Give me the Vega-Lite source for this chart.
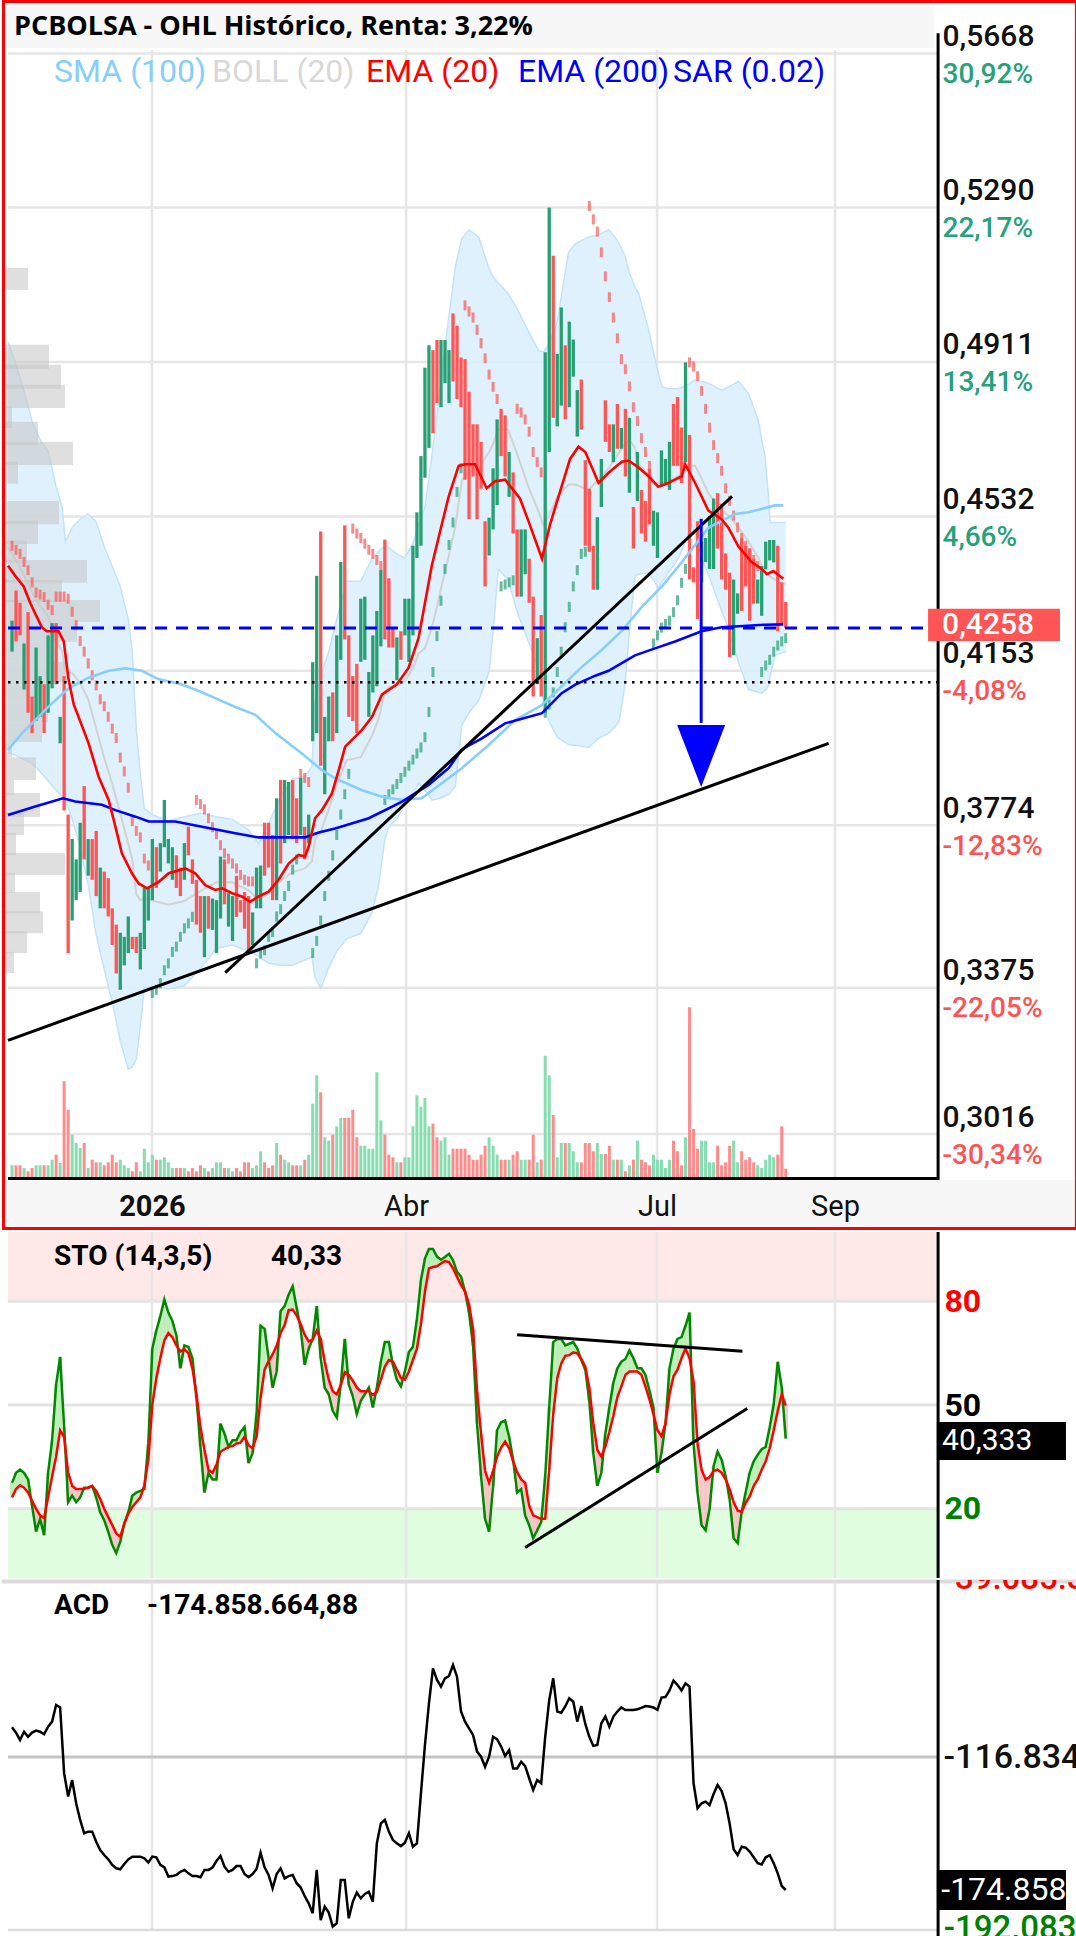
{
"$schema":"https://vega.github.io/schema/vega-lite/v6.json",
"padding":0,"background":"white","bounds":"flush","spacing":2,
"config":{"view":{"stroke":null},"font":"Roboto"},
"datasets":{
"ticks":[{"p":0.5668},{"p":0.529},{"p":0.4911},{"p":0.4532},{"p":0.4153},{"p":0.3774},{"p":0.3375},{"p":0.3016}],
"months":[{"m":35.9},{"m":99.3},{"m":161.9},{"m":206.3}],
"main":[
{"t":1,"o":0.42,"c":0.4276,"v":1.17,"s":0.446,"k":27.5,"d":23.3,"a":-103.9},
{"t":2,"o":0.435,"c":0.4225,"v":1.17,"s":0.445,"k":30.4,"d":25.7,"a":-106.2},
{"t":3,"o":0.432,"c":0.424,"v":1.17,"s":0.444,"k":31.3,"d":26.8,"a":-109.4},
{"t":4,"o":0.4107,"c":0.422,"v":0.9,"s":0.442,"k":30.4,"d":26.1,"a":-105.8},
{"t":5,"o":0.4297,"c":0.405,"v":0.57,"s":0.44,"k":28.5,"d":24.7,"a":-108.0},
{"t":6,"o":0.409,"c":0.4,"v":0.9,"s":0.437,"k":20.9,"d":22.3,"a":-106.2},
{"t":7,"o":0.403,"c":0.421,"v":1.17,"s":0.4345,"k":13.4,"d":20.0,"a":-105.3},
{"t":8,"o":0.404,"c":0.414,"v":1.17,"s":0.434,"k":17.1,"d":18.1,"a":-105.8},
{"t":9,"o":0.412,"c":0.4,"v":1.17,"s":0.4334,"k":12.4,"d":17.3,"a":-106.9},
{"t":10,"o":0.405,"c":0.424,"v":1.17,"s":0.4315,"k":30.4,"d":23.3,"a":-103.6},
{"t":11,"o":0.411,"c":0.427,"v":1.73,"s":0.4302,"k":39.8,"d":29.4,"a":-101.4},
{"t":12,"o":0.427,"c":0.412,"v":2.23,"s":0.4335,"k":55.9,"d":35.1,"a":-94.1},
{"t":13,"o":0.3975,"c":0.404,"v":1.4,"s":0.4335,"k":63.9,"d":42.7,"a":-95.2},
{"t":14,"o":0.414,"c":0.381,"v":9.57,"s":0.4335,"k":43.6,"d":40.8,"a":-124.0},
{"t":15,"o":0.38,"c":0.346,"v":6.73,"s":0.433,"k":21.9,"d":30.4,"a":-134.1},
{"t":16,"o":0.354,"c":0.374,"v":4.23,"s":0.4298,"k":23.8,"d":26.6,"a":-126.9},
{"t":17,"o":0.359,"c":0.369,"v":3.4,"s":0.4265,"k":21.9,"d":25.7,"a":-137.0},
{"t":18,"o":0.361,"c":0.378,"v":2.9,"s":0.4226,"k":23.3,"d":25.7,"a":-144.3},
{"t":19,"o":0.387,"c":0.369,"v":3.4,"s":0.42,"k":26.1,"d":25.8,"a":-150.1},
{"t":20,"o":0.365,"c":0.374,"v":0.9,"s":0.4171,"k":26.1,"d":26.1,"a":-149.4},
{"t":21,"o":0.374,"c":0.364,"v":1.73,"s":0.4142,"k":26.6,"d":26.6,"a":-149.4},
{"t":22,"o":0.376,"c":0.36,"v":1.47,"s":0.4117,"k":23.3,"d":25.2,"a":-153.8},
{"t":23,"o":0.357,"c":0.367,"v":1.47,"s":0.4083,"k":19.0,"d":22.8,"a":-157.4},
{"t":24,"o":0.366,"c":0.357,"v":1.17,"s":0.4066,"k":16.7,"d":20.0,"a":-159.6},
{"t":25,"o":0.3644,"c":0.355,"v":1.47,"s":0.404,"k":13.4,"d":17.6,"a":-161.5},
{"t":26,"o":0.357,"c":0.348,"v":2.23,"s":0.4011,"k":9.6,"d":15.3,"a":-163.9},
{"t":27,"o":0.353,"c":0.341,"v":1.47,"s":0.3988,"k":7.2,"d":12.9,"a":-165.4},
{"t":28,"o":0.337,"c":0.351,"v":1.73,"s":0.394,"k":10.5,"d":11.9,"a":-165.8},
{"t":29,"o":0.343,"c":0.35,"v":1.17,"s":0.3906,"k":15.7,"d":15.7,"a":-163.5},
{"t":30,"o":0.346,"c":0.355,"v":0.9,"s":0.3866,"k":19.0,"d":18.6,"a":-161.5},
{"t":31,"o":0.35,"c":0.347,"v":0.57,"s":0.3784,"k":23.8,"d":20.5,"a":-160.3},
{"t":32,"o":0.35,"c":0.346,"v":1.47,"s":0.376,"k":24.7,"d":21.9,"a":-160.3},
{"t":33,"o":0.342,"c":0.351,"v":0.57,"s":0.3744,"k":25.2,"d":23.3,"a":-160.3},
{"t":34,"o":0.347,"c":0.362,"v":2.83,"s":0.3692,"k":25.7,"d":26.6,"a":-161.0},
{"t":35,"o":0.354,"c":0.362,"v":1.47,"s":0.3675,"k":38.9,"d":34.2,"a":-162.9},
{"t":36,"o":0.359,"c":0.374,"v":2.23,"s":0.3362,"k":66.3,"d":50.2,"a":-160.3},
{"t":37,"o":0.372,"c":0.362,"v":1.73,"s":0.337,"k":71.5,"d":57.8,"a":-160.6},
{"t":38,"o":0.366,"c":0.373,"v":1.73,"s":0.3386,"k":75.7,"d":63.5,"a":-163.9},
{"t":39,"o":0.372,"c":0.3836,"v":1.97,"s":0.3418,"k":80.5,"d":68.7,"a":-165.0},
{"t":40,"o":0.368,"c":0.374,"v":1.47,"s":0.3435,"k":76.7,"d":70.8,"a":-169.0},
{"t":41,"o":0.364,"c":0.372,"v":0.9,"s":0.3463,"k":74.3,"d":69.6,"a":-168.8},
{"t":42,"o":0.37,"c":0.362,"v":0.9,"s":0.3476,"k":70.1,"d":67.2,"a":-168.3},
{"t":43,"o":0.367,"c":0.36,"v":0.9,"s":0.35,"k":60.6,"d":65.5,"a":-166.9},
{"t":44,"o":0.364,"c":0.373,"v":0.9,"s":0.3521,"k":67.2,"d":66.1,"a":-166.1},
{"t":45,"o":0.377,"c":0.37,"v":0.57,"s":0.3533,"k":66.8,"d":64.9,"a":-167.6},
{"t":46,"o":0.369,"c":0.363,"v":0.9,"s":0.3549,"k":63.5,"d":60.6,"a":-168.8},
{"t":47,"o":0.364,"c":0.353,"v":0.57,"s":0.3836,"k":52.1,"d":53.1,"a":-168.8},
{"t":48,"o":0.36,"c":0.351,"v":1.17,"s":0.3826,"k":37.9,"d":43.6,"a":-169.3},
{"t":49,"o":0.345,"c":0.36,"v":0.9,"s":0.3813,"k":24.7,"d":37.0,"a":-166.1},
{"t":50,"o":0.36,"c":0.352,"v":0.57,"s":0.3791,"k":30.4,"d":31.3,"a":-166.1},
{"t":51,"o":0.3517,"c":0.3594,"v":0.9,"s":0.3769,"k":28.5,"d":30.4,"a":-165.1},
{"t":52,"o":0.346,"c":0.359,"v":1.47,"s":0.3752,"k":28.5,"d":32.7,"a":-162.2},
{"t":53,"o":0.3545,"c":0.3697,"v":1.47,"s":0.3725,"k":44.6,"d":36.5,"a":-160.0},
{"t":54,"o":0.369,"c":0.358,"v":0.9,"s":0.3705,"k":41.7,"d":37.2,"a":-164.7},
{"t":55,"o":0.3525,"c":0.3607,"v":0.9,"s":0.3692,"k":37.9,"d":37.9,"a":-166.9},
{"t":56,"o":0.349,"c":0.36,"v":0.57,"s":0.368,"k":39.8,"d":38.1,"a":-166.1},
{"t":57,"o":0.365,"c":0.3549,"v":0.9,"s":0.3668,"k":39.8,"d":38.9,"a":-164.4},
{"t":58,"o":0.359,"c":0.356,"v":0.57,"s":0.3652,"k":42.2,"d":39.1,"a":-164.4},
{"t":59,"o":0.361,"c":0.352,"v":1.47,"s":0.364,"k":43.6,"d":40.8,"a":-167.9},
{"t":60,"o":0.36,"c":0.346,"v":1.47,"s":0.3636,"k":33.2,"d":38.4,"a":-169.3},
{"t":61,"o":0.348,"c":0.356,"v":0.9,"s":0.3636,"k":36.1,"d":37.5,"a":-167.9},
{"t":62,"o":0.357,"c":0.367,"v":1.17,"s":0.3435,"k":47.4,"d":40.8,"a":-165.7},
{"t":63,"o":0.357,"c":0.3675,"v":2.57,"s":0.3459,"k":72.9,"d":52.1,"a":-158.6},
{"t":64,"o":0.378,"c":0.365,"v":1.47,"s":0.3467,"k":72.0,"d":60.2,"a":-165.0},
{"t":65,"o":0.378,"c":0.367,"v":0.9,"s":0.35,"k":63.5,"d":62.7,"a":-168.3},
{"t":66,"o":0.375,"c":0.359,"v":1.17,"s":0.3512,"k":55.0,"d":64.6,"a":-174.1},
{"t":67,"o":0.359,"c":0.384,"v":3.4,"s":0.355,"k":59.7,"d":67.1,"a":-167.9},
{"t":68,"o":0.3885,"c":0.368,"v":2.23,"s":0.3568,"k":77.2,"d":70.8,"a":-165.4},
{"t":69,"o":0.373,"c":0.3885,"v":1.73,"s":0.36,"k":78.6,"d":73.1,"a":-169.8},
{"t":70,"o":0.375,"c":0.388,"v":1.47,"s":0.3625,"k":81.9,"d":77.4,"a":-168.8},
{"t":71,"o":0.3885,"c":0.374,"v":1.17,"s":0.3665,"k":84.3,"d":77.6,"a":-168.3},
{"t":72,"o":0.384,"c":0.373,"v":1.17,"s":0.369,"k":78.1,"d":75.9,"a":-171.9},
{"t":73,"o":0.375,"c":0.389,"v":1.17,"s":0.39,"k":72.0,"d":73.4,"a":-173.8},
{"t":74,"o":0.377,"c":0.369,"v":1.73,"s":0.389,"k":61.6,"d":70.3,"a":-177.5},
{"t":75,"o":0.373,"c":0.38,"v":2.23,"s":0.388,"k":66.3,"d":68.4,"a":-180.7},
{"t":76,"o":0.398,"c":0.4174,"v":7.33,"s":0.346,"k":69.1,"d":68.9,"a":-185.0},
{"t":77,"o":0.4,"c":0.4386,"v":10.17,"s":0.349,"k":78.6,"d":71.5,"a":-166.1},
{"t":78,"o":0.4495,"c":0.392,"v":8.47,"s":0.354,"k":63.5,"d":69.1,"a":-188.0},
{"t":79,"o":0.385,"c":0.404,"v":3.97,"s":0.36,"k":55.0,"d":62.5,"a":-182.1},
{"t":80,"o":0.398,"c":0.409,"v":3.63,"s":0.365,"k":53.1,"d":57.3,"a":-184.7},
{"t":81,"o":0.41,"c":0.398,"v":4.23,"s":0.37,"k":48.3,"d":54.0,"a":-190.8},
{"t":82,"o":0.4,"c":0.424,"v":5.07,"s":0.375,"k":46.4,"d":53.1,"a":-189.4},
{"t":83,"o":0.418,"c":0.442,"v":5.9,"s":0.38,"k":55.9,"d":55.7,"a":-170.5},
{"t":84,"o":0.451,"c":0.423,"v":5.9,"s":0.385,"k":69.1,"d":59.5,"a":-170.5},
{"t":85,"o":0.424,"c":0.404,"v":5.93,"s":0.39,"k":55.9,"d":58.7,"a":-187.2},
{"t":86,"o":0.414,"c":0.403,"v":6.73,"s":0.4502,"k":52.6,"d":57.0,"a":-180.0},
{"t":87,"o":0.417,"c":0.4,"v":3.97,"s":0.449,"k":47.4,"d":55.1,"a":-176.0},
{"t":88,"o":0.4175,"c":0.433,"v":3.13,"s":0.4479,"k":51.2,"d":54.0,"a":-178.5},
{"t":89,"o":0.418,"c":0.4335,"v":3.13,"s":0.4465,"k":53.1,"d":54.0,"a":-176.6},
{"t":90,"o":0.404,"c":0.415,"v":2.83,"s":0.445,"k":55.0,"d":54.0,"a":-175.6},
{"t":91,"o":0.41,"c":0.424,"v":2.83,"s":0.444,"k":49.3,"d":52.9,"a":-180.0},
{"t":92,"o":0.4115,"c":0.43,"v":10.47,"s":0.4425,"k":55.0,"d":53.8,"a":-154.5},
{"t":93,"o":0.4213,"c":0.44,"v":5.67,"s":0.441,"k":62.5,"d":57.3,"a":-145.8},
{"t":94,"o":0.4475,"c":0.423,"v":4.23,"s":0.3836,"k":68.2,"d":61.1,"a":-144.3},
{"t":95,"o":0.438,"c":0.421,"v":2.23,"s":0.385,"k":68.2,"d":63.0,"a":-149.4},
{"t":96,"o":0.426,"c":0.421,"v":1.97,"s":0.3862,"k":61.6,"d":62.5,"a":-153.0},
{"t":97,"o":0.413,"c":0.4235,"v":1.47,"s":0.3875,"k":57.3,"d":60.2,"a":-154.5},
{"t":98,"o":0.425,"c":0.418,"v":1.47,"s":0.389,"k":55.4,"d":57.8,"a":-155.7},
{"t":99,"o":0.424,"c":0.433,"v":1.97,"s":0.3905,"k":59.7,"d":57.3,"a":-154.2},
{"t":100,"o":0.4175,"c":0.433,"v":1.97,"s":0.392,"k":65.3,"d":59.7,"a":-150.1},
{"t":101,"o":0.424,"c":0.446,"v":5.07,"s":0.3935,"k":66.8,"d":63.0,"a":-156.0},
{"t":102,"o":0.443,"c":0.4542,"v":8.17,"s":0.395,"k":74.8,"d":66.3,"a":-154.5},
{"t":103,"o":0.446,"c":0.468,"v":7.03,"s":0.3965,"k":86.1,"d":73.4,"a":-132.7},
{"t":104,"o":0.4627,"c":0.4897,"v":7.9,"s":0.399,"k":92.3,"d":82.8,"a":-111.6},
{"t":105,"o":0.47,"c":0.4952,"v":5.07,"s":0.4052,"k":95.1,"d":89.5,"a":-93.4},
{"t":106,"o":0.494,"c":0.4736,"v":5.33,"s":0.415,"k":95.1,"d":89.9,"a":-78.2},
{"t":107,"o":0.4965,"c":0.481,"v":3.97,"s":0.4238,"k":92.9,"d":90.1,"a":-83.2},
{"t":108,"o":0.48,"c":0.4965,"v":3.63,"s":0.4325,"k":92.0,"d":90.9,"a":-86.1},
{"t":109,"o":0.4859,"c":0.4965,"v":3.97,"s":0.4403,"k":92.8,"d":91.6,"a":-82.5},
{"t":110,"o":0.481,"c":0.494,"v":2.23,"s":0.4462,"k":93.7,"d":91.3,"a":-81.5},
{"t":111,"o":0.503,"c":0.4863,"v":2.83,"s":0.4517,"k":91.8,"d":89.5,"a":-76.7},
{"t":112,"o":0.5,"c":0.482,"v":2.83,"s":0.4592,"k":88.5,"d":87.1,"a":-81.8},
{"t":113,"o":0.4922,"c":0.48,"v":2.83,"s":0.465,"k":87.1,"d":84.7,"a":-97.0},
{"t":114,"o":0.4918,"c":0.4622,"v":2.83,"s":0.505,"k":82.8,"d":82.8,"a":-101.4},
{"t":115,"o":0.4838,"c":0.4525,"v":2.23,"s":0.5035,"k":76.7,"d":79.1,"a":-104.3},
{"t":116,"o":0.4758,"c":0.463,"v":1.73,"s":0.502,"k":67.2,"d":72.0,"a":-107.2},
{"t":117,"o":0.4758,"c":0.4525,"v":1.73,"s":0.499,"k":44.6,"d":54.0,"a":-114.5},
{"t":118,"o":0.4715,"c":0.46,"v":2.23,"s":0.4957,"k":29.4,"d":41.7,"a":-116.7},
{"t":119,"o":0.452,"c":0.436,"v":3.13,"s":0.492,"k":17.1,"d":30.9,"a":-121.1},
{"t":120,"o":0.4436,"c":0.4529,"v":3.97,"s":0.488,"k":13.4,"d":27.5,"a":-116.7},
{"t":121,"o":0.45,"c":0.465,"v":3.13,"s":0.485,"k":26.6,"d":30.9,"a":-108.0},
{"t":122,"o":0.456,"c":0.477,"v":2.23,"s":0.482,"k":42.7,"d":35.1,"a":-109.1},
{"t":123,"o":0.4796,"c":0.468,"v":1.73,"s":0.436,"k":45.0,"d":37.7,"a":-112.3},
{"t":124,"o":0.478,"c":0.463,"v":1.73,"s":0.4365,"k":45.5,"d":39.4,"a":-116.4},
{"t":125,"o":0.458,"c":0.469,"v":1.73,"s":0.437,"k":40.8,"d":37.5,"a":-113.8},
{"t":126,"o":0.464,"c":0.449,"v":2.23,"s":0.4375,"k":34.2,"d":33.7,"a":-121.8},
{"t":127,"o":0.45,"c":0.4335,"v":2.57,"s":0.4796,"k":24.7,"d":30.6,"a":-121.8},
{"t":128,"o":0.4335,"c":0.45,"v":1.73,"s":0.4787,"k":25.7,"d":28.5,"a":-118.9},
{"t":129,"o":0.439,"c":0.45,"v":1.73,"s":0.477,"k":18.1,"d":27.5,"a":-120.8},
{"t":130,"o":0.4428,"c":0.432,"v":1.73,"s":0.474,"k":15.3,"d":20.9,"a":-126.1},
{"t":131,"o":0.4335,"c":0.409,"v":4.23,"s":0.469,"k":11.5,"d":18.1,"a":-131.2},
{"t":132,"o":0.412,"c":0.4233,"v":1.47,"s":0.4665,"k":13.8,"d":17.6,"a":-126.9},
{"t":133,"o":0.429,"c":0.409,"v":1.73,"s":0.464,"k":16.2,"d":17.1,"a":-128.3},
{"t":134,"o":0.405,"c":0.4935,"v":12.13,"s":0.405,"k":29.4,"d":17.1,"a":-108.0},
{"t":135,"o":0.469,"c":0.529,"v":10.17,"s":0.407,"k":49.3,"d":31.3,"a":-92.0},
{"t":136,"o":0.5172,"c":0.4774,"v":6.2,"s":0.41,"k":68.2,"d":47.4,"a":-82.5},
{"t":137,"o":0.4753,"c":0.4931,"v":1.97,"s":0.415,"k":69.1,"d":57.8,"a":-97.0},
{"t":138,"o":0.4804,"c":0.5045,"v":3.4,"s":0.42,"k":69.1,"d":62.0,"a":-97.5},
{"t":139,"o":0.4952,"c":0.477,"v":3.4,"s":0.426,"k":67.2,"d":64.2,"a":-94.8},
{"t":140,"o":0.48,"c":0.501,"v":3.4,"s":0.431,"k":67.7,"d":64.4,"a":-91.2},
{"t":141,"o":0.4875,"c":0.4966,"v":2.57,"s":0.436,"k":68.2,"d":65.2,"a":-92.7},
{"t":142,"o":0.4728,"c":0.4842,"v":1.47,"s":0.44,"k":66.3,"d":64.9,"a":-101.4},
{"t":143,"o":0.4868,"c":0.4745,"v":1.47,"s":0.444,"k":63.0,"d":63.3,"a":-94.6},
{"t":144,"o":0.467,"c":0.446,"v":3.4,"s":0.4445,"k":60.2,"d":61.1,"a":-102.4},
{"t":145,"o":0.46,"c":0.4445,"v":3.4,"s":0.5294,"k":51.2,"d":55.0,"a":-108.0},
{"t":146,"o":0.446,"c":0.4352,"v":2.57,"s":0.5261,"k":36.1,"d":44.6,"a":-112.0},
{"t":147,"o":0.4352,"c":0.453,"v":3.4,"s":0.5231,"k":26.6,"d":37.0,"a":-111.6},
{"t":148,"o":0.4555,"c":0.4673,"v":2.3,"s":0.518,"k":30.4,"d":35.1,"a":-102.1},
{"t":149,"o":0.4817,"c":0.4715,"v":2.3,"s":0.5121,"k":41.7,"d":38.0,"a":-99.2},
{"t":150,"o":0.4758,"c":0.469,"v":3.13,"s":0.507,"k":49.3,"d":42.2,"a":-103.6},
{"t":151,"o":0.4665,"c":0.4758,"v":1.73,"s":0.502,"k":56.4,"d":46.9,"a":-99.2},
{"t":152,"o":0.4808,"c":0.4698,"v":1.73,"s":0.4969,"k":60.6,"d":52.3,"a":-97.0},
{"t":153,"o":0.4698,"c":0.4749,"v":1.73,"s":0.4918,"k":62.5,"d":55.4,"a":-95.2},
{"t":154,"o":0.4796,"c":0.463,"v":0.57,"s":0.4893,"k":63.3,"d":58.7,"a":-96.3},
{"t":155,"o":0.459,"c":0.4774,"v":1.17,"s":0.4851,"k":65.8,"d":59.7,"a":-96.3},
{"t":156,"o":0.4555,"c":0.4453,"v":1.73,"s":0.48,"k":63.5,"d":59.7,"a":-96.3},
{"t":157,"o":0.457,"c":0.469,"v":3.63,"s":0.4766,"k":60.6,"d":59.7,"a":-96.0},
{"t":158,"o":0.4597,"c":0.449,"v":1.73,"s":0.4724,"k":60.6,"d":58.7,"a":-95.4},
{"t":159,"o":0.457,"c":0.447,"v":1.47,"s":0.469,"k":58.7,"d":55.4,"a":-94.6},
{"t":160,"o":0.4648,"c":0.4512,"v":1.17,"s":0.4656,"k":54.2,"d":51.6,"a":-94.8},
{"t":161,"o":0.446,"c":0.4546,"v":2.23,"s":0.422,"k":49.3,"d":47.4,"a":-95.2},
{"t":162,"o":0.443,"c":0.4542,"v":1.73,"s":0.424,"k":30.4,"d":42.7,"a":-96.3},
{"t":163,"o":0.4605,"c":0.4694,"v":1.73,"s":0.4259,"k":36.1,"d":41.0,"a":-90.9},
{"t":164,"o":0.4614,"c":0.4673,"v":0.9,"s":0.4268,"k":44.6,"d":44.6,"a":-90.7},
{"t":165,"o":0.4597,"c":0.4715,"v":1.73,"s":0.4276,"k":60.6,"d":53.1,"a":-87.8},
{"t":166,"o":0.4808,"c":0.4656,"v":3.63,"s":0.4297,"k":66.3,"d":58.3,"a":-83.5},
{"t":167,"o":0.4825,"c":0.4656,"v":2.57,"s":0.4326,"k":69.1,"d":60.2,"a":-85.4},
{"t":168,"o":0.475,"c":0.4614,"v":1.17,"s":0.4369,"k":69.6,"d":63.5,"a":-87.8},
{"t":169,"o":0.4665,"c":0.491,"v":3.97,"s":0.4403,"k":72.9,"d":66.3,"a":-84.7},
{"t":170,"o":0.4732,"c":0.4377,"v":16.97,"s":0.491,"k":76.7,"d":63.5,"a":-86.1},
{"t":171,"o":0.4407,"c":0.437,"v":4.8,"s":0.49,"k":38.9,"d":56.8,"a":-128.3},
{"t":172,"o":0.452,"c":0.428,"v":2.83,"s":0.4876,"k":24.7,"d":38.9,"a":-139.2},
{"t":173,"o":0.437,"c":0.447,"v":3.63,"s":0.484,"k":15.3,"d":31.3,"a":-137.0},
{"t":174,"o":0.442,"c":0.4479,"v":3.63,"s":0.4796,"k":13.8,"d":28.5,"a":-136.3},
{"t":175,"o":0.4403,"c":0.4533,"v":1.47,"s":0.475,"k":20.0,"d":29.2,"a":-137.8},
{"t":176,"o":0.4403,"c":0.4576,"v":1.47,"s":0.4707,"k":32.3,"d":30.9,"a":-133.0},
{"t":177,"o":0.4589,"c":0.4453,"v":3.13,"s":0.4675,"k":36.5,"d":31.3,"a":-129.0},
{"t":178,"o":0.4563,"c":0.4377,"v":1.17,"s":0.4644,"k":34.2,"d":30.4,"a":-131.7},
{"t":179,"o":0.4441,"c":0.4352,"v":1.47,"s":0.4601,"k":29.4,"d":28.5,"a":-137.0},
{"t":180,"o":0.4394,"c":0.4187,"v":3.13,"s":0.457,"k":22.8,"d":25.7,"a":-145.8},
{"t":181,"o":0.4191,"c":0.4377,"v":3.63,"s":0.4534,"k":11.5,"d":21.9,"a":-157.1},
{"t":182,"o":0.4293,"c":0.4343,"v":1.47,"s":0.4505,"k":10.1,"d":19.5,"a":-159.6},
{"t":183,"o":0.4478,"c":0.43,"v":2.57,"s":0.4479,"k":19.1,"d":19.1,"a":-156.0},
{"t":184,"o":0.446,"c":0.436,"v":1.73,"s":0.446,"k":24.7,"d":21.7,"a":-156.4},
{"t":185,"o":0.4453,"c":0.4276,"v":1.97,"s":0.4441,"k":30.4,"d":23.6,"a":-158.1},
{"t":186,"o":0.4428,"c":0.4318,"v":1.47,"s":0.4425,"k":33.7,"d":26.6,"a":-160.6},
{"t":187,"o":0.4318,"c":0.4377,"v":1.17,"s":0.441,"k":35.6,"d":28.5,"a":-163.2},
{"t":188,"o":0.4288,"c":0.441,"v":0.9,"s":0.415,"k":37.2,"d":31.3,"a":-163.7},
{"t":189,"o":0.4402,"c":0.447,"v":1.73,"s":0.4166,"k":37.9,"d":33.7,"a":-160.6},
{"t":190,"o":0.4424,"c":0.4474,"v":2.23,"s":0.418,"k":43.6,"d":37.5,"a":-159.7},
{"t":191,"o":0.4419,"c":0.4474,"v":1.97,"s":0.42,"k":50.2,"d":42.7,"a":-163.2},
{"t":192,"o":0.446,"c":0.425,"v":2.23,"s":0.4215,"k":62.5,"d":48.3,"a":-167.6},
{"t":193,"o":0.437,"c":0.427,"v":5.07,"s":0.4225,"k":55.0,"d":53.1,"a":-173.1},
{"t":194,"o":0.4322,"c":0.4258,"v":0.83,"s":0.4233,"k":40.3,"d":49.8,"a":-174.86}
],
"bb":[
{"t":0,"u":0.496,"l":0.3952,"m":0.4456},{"t":2,"u":0.4905,"l":0.3945,"m":0.4425},{"t":4,"u":0.484,"l":0.3935,"m":0.4388},{"t":6,"u":0.4765,"l":0.3925,"m":0.4345},{"t":8,"u":0.472,"l":0.3905,"m":0.4313},{"t":10,"u":0.4692,"l":0.3883,"m":0.4288},{"t":12,"u":0.4605,"l":0.386,"m":0.4233},{"t":13.5,"u":0.4555,"l":0.3845,"m":0.42},{"t":14.3,"u":0.447,"l":0.3836,"m":0.4153},{"t":16,"u":0.4505,"l":0.379,"m":0.4148},{"t":18,"u":0.4525,"l":0.372,"m":0.4123},{"t":20,"u":0.4538,"l":0.3628,"m":0.4083},{"t":22,"u":0.4518,"l":0.3505,"m":0.4012},{"t":24,"u":0.4458,"l":0.342,"m":0.3939},{"t":26,"u":0.4409,"l":0.334,"m":0.3875},{"t":28,"u":0.436,"l":0.3245,"m":0.3803},{"t":30,"u":0.428,"l":0.3175,"m":0.3728},{"t":31,"u":0.42,"l":0.318,"m":0.369},{"t":32,"u":0.401,"l":0.32,"m":0.3605},{"t":33,"u":0.39,"l":0.328,"m":0.359},{"t":34,"u":0.3815,"l":0.3375,"m":0.3595},{"t":36,"u":0.38,"l":0.3378,"m":0.3589},{"t":40,"u":0.3785,"l":0.3372,"m":0.3579},{"t":44,"u":0.3795,"l":0.338,"m":0.3588},{"t":48,"u":0.3803,"l":0.3422,"m":0.3613},{"t":52,"u":0.3795,"l":0.3472,"m":0.3634},{"t":56,"u":0.3788,"l":0.348,"m":0.3634},{"t":60,"u":0.3762,"l":0.3465,"m":0.3614},{"t":62.5,"u":0.3729,"l":0.3452,"m":0.3591},{"t":65,"u":0.3778,"l":0.3435,"m":0.3607},{"t":68,"u":0.3845,"l":0.343,"m":0.3638},{"t":71,"u":0.3887,"l":0.343,"m":0.3659},{"t":74,"u":0.3893,"l":0.3443,"m":0.3668},{"t":75.8,"u":0.3918,"l":0.3451,"m":0.3685},{"t":76.6,"u":0.4081,"l":0.34,"m":0.374},{"t":78,"u":0.414,"l":0.3374,"m":0.3757},{"t":80,"u":0.42,"l":0.3425,"m":0.3813},{"t":82,"u":0.428,"l":0.3465,"m":0.3873},{"t":84.5,"u":0.4373,"l":0.3495,"m":0.3934},{"t":88,"u":0.4373,"l":0.3508,"m":0.3941},{"t":90.8,"u":0.4428,"l":0.356,"m":0.3994},{"t":92.4,"u":0.4445,"l":0.3623,"m":0.4034},{"t":94,"u":0.4462,"l":0.374,"m":0.4101},{"t":95,"u":0.4455,"l":0.377,"m":0.4113},{"t":97,"u":0.444,"l":0.379,"m":0.4115},{"t":99,"u":0.443,"l":0.3825,"m":0.4128},{"t":101,"u":0.4465,"l":0.385,"m":0.4158},{"t":102.4,"u":0.4512,"l":0.3877,"m":0.4195},{"t":104,"u":0.4555,"l":0.386,"m":0.4208},{"t":105.7,"u":0.468,"l":0.3836,"m":0.4258},{"t":107,"u":0.478,"l":0.3838,"m":0.4309},{"t":108.2,"u":0.4884,"l":0.3842,"m":0.4363},{"t":110,"u":0.5025,"l":0.385,"m":0.4438},{"t":111.6,"u":0.5146,"l":0.3870,"m":0.4508},{"t":113.2,"u":0.5214,"l":0.402,"m":0.462},{"t":115,"u":0.5235,"l":0.405,"m":0.464},{"t":117.4,"u":0.5218,"l":0.408,"m":0.465},{"t":120,"u":0.514,"l":0.415,"m":0.469},{"t":121,"u":0.512,"l":0.425,"m":0.471},{"t":122.3,"u":0.5105,"l":0.4402,"m":0.4745},{"t":124.7,"u":0.508,"l":0.4377,"m":0.4745},{"t":127.2,"u":0.5038,"l":0.4292,"m":0.468},{"t":129.8,"u":0.4986,"l":0.4225,"m":0.4605},{"t":132.3,"u":0.494,"l":0.4158,"m":0.4545},{"t":133.5,"u":0.4935,"l":0.408,"m":0.4512},{"t":134.8,"u":0.4952,"l":0.4032,"m":0.453},{"t":137,"u":0.501,"l":0.399,"m":0.458},{"t":139.8,"u":0.518,"l":0.3972,"m":0.461},{"t":141.5,"u":0.5201,"l":0.397,"m":0.461},{"t":144.8,"u":0.5218,"l":0.3965,"m":0.4597},{"t":147.3,"u":0.5223,"l":0.3987,"m":0.4622},{"t":149.8,"u":0.5235,"l":0.4,"m":0.465},{"t":151.4,"u":0.5218,"l":0.4015,"m":0.4673},{"t":152.5,"u":0.52,"l":0.403,"m":0.469},{"t":153.9,"u":0.5172,"l":0.412,"m":0.471},{"t":155,"u":0.513,"l":0.425,"m":0.472},{"t":156.4,"u":0.5095,"l":0.4386,"m":0.47},{"t":157.3,"u":0.5079,"l":0.439,"m":0.466},{"t":159.7,"u":0.4994,"l":0.4394,"m":0.4635},{"t":161.4,"u":0.4918,"l":0.437,"m":0.4614},{"t":162.2,"u":0.4885,"l":0.4356,"m":0.4614},{"t":163.1,"u":0.4851,"l":0.437,"m":0.4614},{"t":164.7,"u":0.4845,"l":0.4394,"m":0.4614},{"t":167.2,"u":0.4846,"l":0.4428,"m":0.463},{"t":168.9,"u":0.4851,"l":0.447,"m":0.4645},{"t":170.6,"u":0.4862,"l":0.4512,"m":0.4656},{"t":171.4,"u":0.4867,"l":0.449,"m":0.4656},{"t":173,"u":0.4863,"l":0.4428,"m":0.4625},{"t":174.7,"u":0.4859,"l":0.439,"m":0.4589},{"t":176.4,"u":0.485,"l":0.4343,"m":0.4565},{"t":178,"u":0.4842,"l":0.43,"m":0.4546},{"t":179.7,"u":0.485,"l":0.4259,"m":0.4535},{"t":182.2,"u":0.4863,"l":0.4174,"m":0.4505},{"t":184.7,"u":0.4834,"l":0.4107,"m":0.447},{"t":187.2,"u":0.4766,"l":0.41,"m":0.443},{"t":188,"u":0.472,"l":0.4098,"m":0.4411},{"t":188.8,"u":0.4682,"l":0.4105,"m":0.44},{"t":189.7,"u":0.458,"l":0.4115,"m":0.439},{"t":190.1,"u":0.4517,"l":0.414,"m":0.4385},{"t":191.3,"u":0.4517,"l":0.4191,"m":0.4377},{"t":194,"u":0.4517,"l":0.42,"m":0.4365}
],
"e20":[{"t":0,"p":0.4411},{"t":1.8,"p":0.4386},{"t":3.9,"p":0.436},{"t":5.6,"p":0.4318},{"t":6.8,"p":0.4293},{"t":8.5,"p":0.4259},{"t":9.7,"p":0.425},{"t":12.6,"p":0.425},{"t":13.9,"p":0.4225},{"t":15.1,"p":0.4132},{"t":16.4,"p":0.407},{"t":17.2,"p":0.405},{"t":20.1,"p":0.3975},{"t":22.6,"p":0.3893},{"t":25.1,"p":0.3836},{"t":26.8,"p":0.377},{"t":28.4,"p":0.3705},{"t":30.9,"p":0.3656},{"t":32.6,"p":0.3631},{"t":34.7,"p":0.3619},{"t":37.6,"p":0.3635},{"t":40.1,"p":0.3656},{"t":44.2,"p":0.3668},{"t":46.7,"p":0.3656},{"t":49.2,"p":0.3627},{"t":51.7,"p":0.3615},{"t":53.4,"p":0.3619},{"t":55.9,"p":0.3607},{"t":58.3,"p":0.3599},{"t":60.4,"p":0.3586},{"t":62.5,"p":0.3599},{"t":65,"p":0.3611},{"t":67.5,"p":0.364},{"t":70,"p":0.368},{"t":72.5,"p":0.3701},{"t":74.1,"p":0.3697},{"t":75,"p":0.3721},{"t":76.6,"p":0.3791},{"t":78.3,"p":0.3811},{"t":80.8,"p":0.3852},{"t":82.5,"p":0.3909},{"t":84.1,"p":0.3967},{"t":88.3,"p":0.4008},{"t":90.8,"p":0.404},{"t":93.3,"p":0.4095},{"t":97,"p":0.412},{"t":99.9,"p":0.416},{"t":102.4,"p":0.4233},{"t":105.7,"p":0.4411},{"t":108.2,"p":0.4512},{"t":109.9,"p":0.458},{"t":112.4,"p":0.4656},{"t":114,"p":0.466},{"t":116.5,"p":0.466},{"t":119.4,"p":0.4601},{"t":121.5,"p":0.4618},{"t":124,"p":0.4622},{"t":127.7,"p":0.4576},{"t":129.8,"p":0.4521},{"t":133.2,"p":0.4428},{"t":135.2,"p":0.4512},{"t":137.3,"p":0.458},{"t":140.2,"p":0.4673},{"t":142.3,"p":0.4703},{"t":144,"p":0.469},{"t":147.3,"p":0.4614},{"t":149.8,"p":0.4639},{"t":153.1,"p":0.4666},{"t":154.8,"p":0.4669},{"t":157.3,"p":0.4652},{"t":159.7,"p":0.4631},{"t":162.2,"p":0.4605},{"t":164.7,"p":0.4614},{"t":168.1,"p":0.4631},{"t":168.9,"p":0.466},{"t":171.4,"p":0.4614},{"t":174.7,"p":0.4546},{"t":178,"p":0.4525},{"t":179.7,"p":0.4504},{"t":182.2,"p":0.4458},{"t":185.5,"p":0.442},{"t":188,"p":0.4403},{"t":189.3,"p":0.439},{"t":190.9,"p":0.4398},{"t":193.4,"p":0.4379}],
"e200":[{"t":0,"p":0.3799},{"t":6.8,"p":0.382},{"t":13.7,"p":0.384},{"t":16.8,"p":0.3832},{"t":23.4,"p":0.3824},{"t":26.8,"p":0.3811},{"t":31.8,"p":0.3795},{"t":35.1,"p":0.3783},{"t":41.7,"p":0.3783},{"t":48.4,"p":0.377},{"t":56.7,"p":0.3754},{"t":62.5,"p":0.3744},{"t":74.1,"p":0.3744},{"t":77.5,"p":0.3756},{"t":81.6,"p":0.3766},{"t":90,"p":0.3791},{"t":98.3,"p":0.3832},{"t":104.9,"p":0.3873},{"t":109.9,"p":0.3914},{"t":113.2,"p":0.396},{"t":118.2,"p":0.3987},{"t":124,"p":0.4024},{"t":133.2,"p":0.4049},{"t":138.1,"p":0.4098},{"t":141.5,"p":0.4119},{"t":146.5,"p":0.4141},{"t":149.8,"p":0.4153},{"t":156.4,"p":0.4191},{"t":161.4,"p":0.4208},{"t":166.4,"p":0.4225},{"t":173,"p":0.425},{"t":178,"p":0.426},{"t":188.8,"p":0.4266},{"t":193.4,"p":0.4267}],
"sma":[{"t":0,"p":0.3959},{"t":3.5,"p":0.4},{"t":6.8,"p":0.4032},{"t":10.1,"p":0.4065},{"t":15.1,"p":0.411},{"t":20.1,"p":0.4136},{"t":25.1,"p":0.4153},{"t":29.3,"p":0.4159},{"t":33.4,"p":0.4153},{"t":37.6,"p":0.4132},{"t":42.6,"p":0.4122},{"t":46.7,"p":0.4107},{"t":51.7,"p":0.4086},{"t":56.7,"p":0.4064},{"t":61.7,"p":0.4045},{"t":66.7,"p":0.4},{"t":73.3,"p":0.395},{"t":78.3,"p":0.3909},{"t":81.6,"p":0.3889},{"t":88.3,"p":0.386},{"t":93.3,"p":0.3844},{"t":98.3,"p":0.3836},{"t":103.2,"p":0.384},{"t":108.2,"p":0.3877},{"t":113.2,"p":0.3914},{"t":119.9,"p":0.3971},{"t":126.5,"p":0.4032},{"t":133.2,"p":0.4069},{"t":138.1,"p":0.4115},{"t":143.1,"p":0.4162},{"t":148.1,"p":0.4204},{"t":153.1,"p":0.4251},{"t":158.1,"p":0.431},{"t":163.1,"p":0.436},{"t":168.1,"p":0.442},{"t":171.4,"p":0.4462},{"t":174.7,"p":0.4504},{"t":178,"p":0.4521},{"t":181.4,"p":0.4538},{"t":184.7,"p":0.4542},{"t":188,"p":0.455},{"t":191.3,"p":0.4559},{"t":193.4,"p":0.4559}],
"trend":[{"g":"a","t":0,"p":0.3246},{"g":"a","t":204.7,"p":0.3975},{"g":"b","t":54.2,"p":0.3412},{"g":"b","t":180.6,"p":0.4581}],
"stotrend":[{"g":"a","t":127,"v":70.3},{"g":"a","t":183.2,"v":65.5},{"g":"b","t":129,"v":8.8},{"g":"b","t":184.4,"v":49.0}],
"vp":[{"lo":0.5088,"hi":0.5142,"w":2.6},{"lo":0.4894,"hi":0.4953,"w":4.7},{"lo":0.4845,"hi":0.4904,"w":5.9},{"lo":0.4798,"hi":0.4855,"w":6.3},{"lo":0.4749,"hi":0.4803,"w":1.0},{"lo":0.4707,"hi":0.4764,"w":3.6},{"lo":0.4658,"hi":0.4715,"w":7.1},{"lo":0.4612,"hi":0.4666,"w":1.6},{"lo":0.457,"hi":0.4612,"w":0.5},{"lo":0.4513,"hi":0.457,"w":5.7},{"lo":0.4464,"hi":0.4521,"w":3.6},{"lo":0.4418,"hi":0.4472,"w":2.5},{"lo":0.4369,"hi":0.4425,"w":8.5},{"lo":0.4322,"hi":0.4376,"w":6.0},{"lo":0.4273,"hi":0.4327,"w":9.8},{"lo":0.4224,"hi":0.4273,"w":7.5},{"lo":0.4175,"hi":0.4224,"w":5.0},{"lo":0.4125,"hi":0.4175,"w":6.5},{"lo":0.4076,"hi":0.4125,"w":4.5},{"lo":0.4027,"hi":0.4076,"w":4.6},{"lo":0.3978,"hi":0.4027,"w":4.0},{"lo":0.3941,"hi":0.3978,"w":1.0},{"lo":0.3885,"hi":0.3941,"w":3.4},{"lo":0.3848,"hi":0.3885,"w":1.2},{"lo":0.3794,"hi":0.3853,"w":3.8},{"lo":0.375,"hi":0.3806,"w":2.2},{"lo":0.3701,"hi":0.3755,"w":1.4},{"lo":0.3652,"hi":0.3706,"w":6.3},{"lo":0.3608,"hi":0.3657,"w":1.3},{"lo":0.3558,"hi":0.361,"w":3.8},{"lo":0.3509,"hi":0.3563,"w":4.1},{"lo":0.346,"hi":0.3514,"w":2.5},{"lo":0.3411,"hi":0.3463,"w":1.2}]
},
"vconcat":[
{
"width":1076,"height":1230,
"layer":[
{
"data":{"values":[{}]},
"layer":[
{"mark":{"type":"rect","fill":"#f7f7f7"},"encoding":{"x":{"datum":-0.25,"type":"quantitative","scale":{"domain":[-1.5,266.9],"nice":false,"zero":false},"axis":null},"x2":{"datum":231},"y":{"datum":0.56817,"type":"quantitative","scale":{"domain":[0.27804,0.57995],"nice":false,"zero":false},"axis":null},"y2":{"datum":0.57872}}},
{"mark":{"type":"rect","fill":"#f7f7f7"},"encoding":{"x":{"datum":-1,"type":"quantitative","scale":{"domain":[-1.5,266.9],"nice":false,"zero":false},"axis":null},"x2":{"datum":266.4},"y":{"datum":0.27853,"type":"quantitative","scale":{"domain":[0.27804,0.57995],"nice":false,"zero":false},"axis":null},"y2":{"datum":0.29031}}},
{"data":{"name":"ticks"},"mark":{"type":"rule","stroke":"#e6e6e6","strokeWidth":2.5},"encoding":{"x":{"datum":0,"type":"quantitative","scale":{"domain":[-1.5,266.9],"nice":false,"zero":false},"axis":null},"x2":{"datum":232},"y":{"field":"p","type":"quantitative","scale":{"domain":[0.27804,0.57995],"nice":false,"zero":false},"axis":null}}},
{"data":{"name":"months"},"mark":{"type":"rule","stroke":"#e6e6e6","strokeWidth":2.5},"encoding":{"x":{"field":"m","type":"quantitative","scale":{"domain":[-1.5,266.9],"nice":false,"zero":false},"axis":null},"y":{"datum":0.56768,"type":"quantitative","scale":{"domain":[0.27804,0.57995],"nice":false,"zero":false},"axis":null},"y2":{"datum":0.29031}}},
{"data":{"name":"bb"},"mark":{"type":"area","fill":"#dcf0fc","opacity":0.92},"encoding":{"x":{"field":"t","type":"quantitative","scale":{"domain":[-1.5,266.9],"nice":false,"zero":false},"axis":null},"y":{"field":"l","type":"quantitative","scale":{"domain":[0.27804,0.57995],"nice":false,"zero":false},"axis":null},"y2":{"field":"u"}}},
{"data":{"name":"bb"},"mark":{"type":"line","stroke":"#c4e3f8","strokeWidth":1.5},"encoding":{"x":{"field":"t","type":"quantitative","scale":{"domain":[-1.5,266.9],"nice":false,"zero":false},"axis":null},"y":{"field":"u","type":"quantitative","scale":{"domain":[0.27804,0.57995],"nice":false,"zero":false},"axis":null}}},
{"data":{"name":"bb"},"mark":{"type":"line","stroke":"#c4e3f8","strokeWidth":1.5},"encoding":{"x":{"field":"t","type":"quantitative","scale":{"domain":[-1.5,266.9],"nice":false,"zero":false},"axis":null},"y":{"field":"l","type":"quantitative","scale":{"domain":[0.27804,0.57995],"nice":false,"zero":false},"axis":null}}},
{"data":{"name":"bb"},"mark":{"type":"line","stroke":"#d2d2d2","strokeWidth":2},"encoding":{"x":{"field":"t","type":"quantitative","scale":{"domain":[-1.5,266.9],"nice":false,"zero":false},"axis":null},"y":{"field":"m","type":"quantitative","scale":{"domain":[0.27804,0.57995],"nice":false,"zero":false},"axis":null}}}
]
},
{"data":{"name":"vp"},"mark":{"type":"rect","fill":"#c4c4c4","opacity":0.55},"encoding":{"x":{"field":"w","type":"quantitative","scale":{"domain":[0,107.6],"nice":false,"zero":false},"axis":null},"x2":{"datum":0},"y":{"field":"lo","type":"quantitative","scale":{"domain":[0.27804,0.57995],"nice":false,"zero":false},"axis":null},"y2":{"field":"hi"}}},
{"data":{"name":"main"},"mark":{"type":"rule","strokeWidth":3},"encoding":{"x":{"field":"t","type":"quantitative","scale":{"domain":[-1.5,266.9],"nice":false,"zero":false},"axis":null},"y":{"field":"v","type":"quantitative","scale":{"domain":[-5.3,117.7],"nice":false,"zero":false},"axis":null},"y2":{"datum":0},"color":{"condition":{"test":"datum.c < datum.o","value":"#ff8c8c"},"value":"#86ddb0"}}},
{
"data":{"values":[{}]},
"layer":[
{"data":{"name":"main"},"mark":{"type":"tick","orient":"vertical","size":10,"thickness":3},"encoding":{"x":{"field":"t","type":"quantitative","scale":{"domain":[-1.5,266.9],"nice":false,"zero":false},"axis":null},"y":{"field":"s","type":"quantitative","scale":{"domain":[0.27804,0.57995],"nice":false,"zero":false},"axis":null},"color":{"condition":{"test":"datum.s > datum.c","value":"#ff5555"},"value":"#26a073"}}},
{"data":{"name":"main"},"mark":{"type":"rule","strokeWidth":3.3},"encoding":{"x":{"field":"t","type":"quantitative","scale":{"domain":[-1.5,266.9],"nice":false,"zero":false},"axis":null},"y":{"field":"o","type":"quantitative","scale":{"domain":[0.27804,0.57995],"nice":false,"zero":false},"axis":null},"y2":{"field":"c"},"color":{"condition":{"test":"datum.c < datum.o","value":"#ff5555"},"value":"#26a073"}}},
{"data":{"name":"sma"},"mark":{"type":"line","stroke":"#87cefa","strokeWidth":2.6},"encoding":{"x":{"field":"t","type":"quantitative","scale":{"domain":[-1.5,266.9],"nice":false,"zero":false},"axis":null},"y":{"field":"p","type":"quantitative","scale":{"domain":[0.27804,0.57995],"nice":false,"zero":false},"axis":null}}},
{"data":{"name":"e200"},"mark":{"type":"line","stroke":"#0000ff","strokeWidth":2.6},"encoding":{"x":{"field":"t","type":"quantitative","scale":{"domain":[-1.5,266.9],"nice":false,"zero":false},"axis":null},"y":{"field":"p","type":"quantitative","scale":{"domain":[0.27804,0.57995],"nice":false,"zero":false},"axis":null}}},
{"data":{"name":"e20"},"mark":{"type":"line","stroke":"#ff0000","strokeWidth":2.6},"encoding":{"x":{"field":"t","type":"quantitative","scale":{"domain":[-1.5,266.9],"nice":false,"zero":false},"axis":null},"y":{"field":"p","type":"quantitative","scale":{"domain":[0.27804,0.57995],"nice":false,"zero":false},"axis":null}}},
{"data":{"name":"trend"},"mark":{"type":"line","stroke":"#000000","strokeWidth":3},"encoding":{"x":{"field":"t","type":"quantitative","scale":{"domain":[-1.5,266.9],"nice":false,"zero":false},"axis":null},"y":{"field":"p","type":"quantitative","scale":{"domain":[0.27804,0.57995],"nice":false,"zero":false},"axis":null},"detail":{"field":"g","type":"nominal"}}},
{"mark":{"type":"rule","stroke":"#0000ff","strokeWidth":3,"strokeDash":[12,9]},"encoding":{"x":{"datum":0,"type":"quantitative","scale":{"domain":[-1.5,266.9],"nice":false,"zero":false},"axis":null},"x2":{"datum":232},"y":{"datum":0.4258,"type":"quantitative","scale":{"domain":[0.27804,0.57995],"nice":false,"zero":false},"axis":null}}},
{"mark":{"type":"rule","stroke":"#000000","strokeWidth":2.5,"strokeDash":[2.5,5.5]},"encoding":{"x":{"datum":0,"type":"quantitative","scale":{"domain":[-1.5,266.9],"nice":false,"zero":false},"axis":null},"x2":{"datum":232},"y":{"datum":0.4125,"type":"quantitative","scale":{"domain":[0.27804,0.57995],"nice":false,"zero":false},"axis":null}}},
{"mark":{"type":"rule","stroke":"#0000ff","strokeWidth":3},"encoding":{"x":{"datum":172.9,"type":"quantitative","scale":{"domain":[-1.5,266.9],"nice":false,"zero":false},"axis":null},"y":{"datum":0.4526,"type":"quantitative","scale":{"domain":[0.27804,0.57995],"nice":false,"zero":false},"axis":null},"y2":{"datum":0.4025}}},
{"mark":{"type":"point","shape":"M-0.774,-1L0.774,-1L0,1Z","filled":true,"color":"#0000ff","size":3844,"opacity":1,"strokeWidth":0},"encoding":{"x":{"datum":172.9,"type":"quantitative","scale":{"domain":[-1.5,266.9],"nice":false,"zero":false},"axis":null},"y":{"datum":0.39438,"type":"quantitative","scale":{"domain":[0.27804,0.57995],"nice":false,"zero":false},"axis":null}}},
{"mark":{"type":"rule","stroke":"#000000","strokeWidth":3},"encoding":{"x":{"datum":232,"type":"quantitative","scale":{"domain":[-1.5,266.9],"nice":false,"zero":false},"axis":null},"y":{"datum":0.5718,"type":"quantitative","scale":{"domain":[0.27804,0.57995],"nice":false,"zero":false},"axis":null},"y2":{"datum":0.29031}}},
{"mark":{"type":"rule","stroke":"#000000","strokeWidth":3},"encoding":{"x":{"datum":0,"type":"quantitative","scale":{"domain":[-1.5,266.9],"nice":false,"zero":false},"axis":null},"x2":{"datum":232},"y":{"datum":0.29068,"type":"quantitative","scale":{"domain":[0.27804,0.57995],"nice":false,"zero":false},"axis":null}}},
{"mark":{"type":"text","align":"left","baseline":"middle","font":"Open Sans","fontWeight":"bold","fontSize":27,"color":"#000000"},"encoding":{"x":{"datum":1.5,"type":"quantitative","scale":{"domain":[-1.5,266.9],"nice":false,"zero":false},"axis":null},"y":{"datum":0.57332,"type":"quantitative","scale":{"domain":[0.27804,0.57995],"nice":false,"zero":false},"axis":null},"text":{"value":"PCBOLSA - OHL Histórico, Renta: 3,22%"}}},
{"mark":{"type":"text","align":"left","baseline":"middle","font":"Roboto","fontSize":32,"color":"#87cefa"},"encoding":{"x":{"datum":11.5,"type":"quantitative","scale":{"domain":[-1.5,266.9],"nice":false,"zero":false},"axis":null},"y":{"datum":0.56228,"type":"quantitative","scale":{"domain":[0.27804,0.57995],"nice":false,"zero":false},"axis":null},"text":{"value":"SMA (100)"}}},
{"mark":{"type":"text","align":"left","baseline":"middle","font":"Roboto","fontSize":32,"color":"#d8d8d8"},"encoding":{"x":{"datum":50.9,"type":"quantitative","scale":{"domain":[-1.5,266.9],"nice":false,"zero":false},"axis":null},"y":{"datum":0.56228,"type":"quantitative","scale":{"domain":[0.27804,0.57995],"nice":false,"zero":false},"axis":null},"text":{"value":"BOLL (20)"}}},
{"mark":{"type":"text","align":"left","baseline":"middle","font":"Roboto","fontSize":32,"color":"#ff0000"},"encoding":{"x":{"datum":89.3,"type":"quantitative","scale":{"domain":[-1.5,266.9],"nice":false,"zero":false},"axis":null},"y":{"datum":0.56228,"type":"quantitative","scale":{"domain":[0.27804,0.57995],"nice":false,"zero":false},"axis":null},"text":{"value":"EMA (20)"}}},
{"mark":{"type":"text","align":"left","baseline":"middle","font":"Roboto","fontSize":32,"color":"#0000ff"},"encoding":{"x":{"datum":127.2,"type":"quantitative","scale":{"domain":[-1.5,266.9],"nice":false,"zero":false},"axis":null},"y":{"datum":0.56228,"type":"quantitative","scale":{"domain":[0.27804,0.57995],"nice":false,"zero":false},"axis":null},"text":{"value":"EMA (200)"}}},
{"mark":{"type":"text","align":"left","baseline":"middle","font":"Roboto","fontSize":32,"color":"#0000ff"},"encoding":{"x":{"datum":165.9,"type":"quantitative","scale":{"domain":[-1.5,266.9],"nice":false,"zero":false},"axis":null},"y":{"datum":0.56228,"type":"quantitative","scale":{"domain":[0.27804,0.57995],"nice":false,"zero":false},"axis":null},"text":{"value":"SAR (0.02)"}}},
{"mark":{"type":"rect","fill":"#ff5555"},"encoding":{"x":{"datum":229.5,"type":"quantitative","scale":{"domain":[-1.5,266.9],"nice":false,"zero":false},"axis":null},"x2":{"datum":262.4},"y":{"datum":0.4305,"type":"quantitative","scale":{"domain":[0.27804,0.57995],"nice":false,"zero":false},"axis":null},"y2":{"datum":0.4226}}},
{"mark":{"type":"text","align":"left","baseline":"middle","font":"Roboto","fontSize":30,"fontWeight":500,"color":"#ffffff"},"encoding":{"x":{"datum":233,"type":"quantitative","scale":{"domain":[-1.5,266.9],"nice":false,"zero":false},"axis":null},"y":{"datum":0.4265,"type":"quantitative","scale":{"domain":[0.27804,0.57995],"nice":false,"zero":false},"axis":null},"text":{"value":"0,4258"}}},
{"mark":{"type":"rect","filled":false,"stroke":"#ff0000","strokeWidth":3},"encoding":{"x":{"datum":-1.12,"type":"quantitative","scale":{"domain":[-1.5,266.9],"nice":false,"zero":false},"axis":null},"x2":{"datum":266.5},"y":{"datum":0.57958,"type":"quantitative","scale":{"domain":[0.27804,0.57995],"nice":false,"zero":false},"axis":null},"y2":{"datum":0.27841}}}
]
},
{"data":{"name":"ticks"},"mark":{"type":"rule","opacity":0},"encoding":{"x":{"datum":0,"type":"quantitative","scale":{"domain":[-1.5,266.9],"nice":false,"zero":false},"axis":null},"x2":{"datum":1},"y":{"field":"p","type":"quantitative","scale":{"domain":[0.27804,0.57995],"nice":false,"zero":false},"axis":{"orient":"right","offset":-140,"values":[0.5668,0.529,0.4911,0.4532,0.4153,0.3774,0.3375,0.3016],"labelExpr":"replace(format(datum.value,'.4f'),'.',',')","domain":false,"ticks":false,"grid":false,"title":null,"labelFont":"Roboto","labelFontSize":30,"labelFontWeight":500,"labelColor":"#111111","labelBaseline":"alphabetic","labelOffset":-8,"labelPadding":4,"labelOverlap":false,"labelAlign":"left"}}}},
{"data":{"name":"ticks"},"mark":{"type":"rule","opacity":0},"encoding":{"x":{"datum":0,"type":"quantitative","scale":{"domain":[-1.5,266.9],"nice":false,"zero":false},"axis":null},"x2":{"datum":1},"y":{"field":"p","type":"quantitative","scale":{"domain":[0.27804,0.57995],"nice":false,"zero":false},"axis":{"orient":"right","offset":-140,"values":[0.5668,0.529,0.4911,0.4532,0.4153,0.3774,0.3375,0.3016],"labelExpr":"datum.value > 0.56 ? '30,92%' : datum.value > 0.52 ? '22,17%' : datum.value > 0.48 ? '13,41%' : datum.value > 0.44 ? '4,66%' : datum.value > 0.40 ? '-4,08%' : datum.value > 0.36 ? '-12,83%' : datum.value > 0.32 ? '-22,05%' : '-30,34%'","labelColor":{"condition":{"test":"datum.value > 0.433","value":"#26a17b"},"value":"#ff5252"},"domain":false,"ticks":false,"grid":false,"title":null,"labelFont":"Roboto","labelFontSize":28,"labelFontWeight":500,"labelBaseline":"top","labelOffset":7,"labelPadding":4,"labelOverlap":false,"labelAlign":"left"}}}},
{"data":{"name":"months"},"mark":{"type":"rule","opacity":0},"encoding":{"x":{"field":"m","type":"quantitative","scale":{"domain":[-1.5,266.9],"nice":false,"zero":false},"axis":{"orient":"bottom","offset":-50,"zindex":2,"values":[35.9,99.3,161.9,206.3],"labelExpr":"datum.value < 50 ? '2026' : datum.value < 130 ? 'Abr' : datum.value < 180 ? 'Jul' : 'Sep'","labelFontWeight":{"condition":{"test":"datum.value < 50","value":"bold"},"value":"normal"},"domain":false,"ticks":false,"grid":false,"title":null,"labelFont":"Roboto","labelFontSize":29,"labelColor":"#111111","labelPadding":12,"labelFlush":false,"labelOverlap":false}},"y":{"datum":0.4,"type":"quantitative","scale":{"domain":[0.27804,0.57995],"nice":false,"zero":false},"axis":null},"y2":{"datum":0.401}}}
],
"resolve":{"scale":{"x":"independent","y":"independent"},"axis":{"x":"independent","y":"independent"}}
},
{
"width":1076,"height":346,
"layer":[
{
"data":{"values":[{}]},
"layer":[
{"mark":{"type":"rect","fill":"#ffe8e8"},"encoding":{"x":{"datum":0,"type":"quantitative","scale":{"domain":[-1.5,266.9],"nice":false,"zero":false},"axis":null},"x2":{"datum":232},"y":{"datum":80,"type":"quantitative","scale":{"domain":[0,100],"nice":false,"zero":false},"axis":null},"y2":{"datum":100}}},
{"mark":{"type":"rect","fill":"#e0fde0"},"encoding":{"x":{"datum":0,"type":"quantitative","scale":{"domain":[-1.5,266.9],"nice":false,"zero":false},"axis":null},"x2":{"datum":232},"y":{"datum":0,"type":"quantitative","scale":{"domain":[0,100],"nice":false,"zero":false},"axis":null},"y2":{"datum":20}}},
{"data":{"values":[{"g":20},{"g":50},{"g":80}]},"mark":{"type":"rule","stroke":"#e3e3e3","strokeWidth":3},"encoding":{"x":{"datum":0,"type":"quantitative","scale":{"domain":[-1.5,266.9],"nice":false,"zero":false},"axis":null},"x2":{"datum":232},"y":{"field":"g","type":"quantitative","scale":{"domain":[0,100],"nice":false,"zero":false},"axis":null}}},
{"data":{"name":"months"},"mark":{"type":"rule","stroke":"#e6e6e6","strokeWidth":2.5},"encoding":{"x":{"field":"m","type":"quantitative","scale":{"domain":[-1.5,266.9],"nice":false,"zero":false},"axis":null},"y":{"datum":0,"type":"quantitative","scale":{"domain":[0,100],"nice":false,"zero":false},"axis":null},"y2":{"datum":100}}},
{"data":{"name":"main"},"mark":{"type":"rule","strokeWidth":4.2},"encoding":{"x":{"field":"t","type":"quantitative","scale":{"domain":[-1.5,266.9],"nice":false,"zero":false},"axis":null},"y":{"field":"k","type":"quantitative","scale":{"domain":[0,100],"nice":false,"zero":false},"axis":null},"y2":{"field":"d"},"color":{"condition":{"test":"datum.k >= datum.d","value":"#bdeeb8"},"value":"#f5c6c6"}}},
{"data":{"name":"main"},"mark":{"type":"line","stroke":"#008800","strokeWidth":2.5},"encoding":{"x":{"field":"t","type":"quantitative","scale":{"domain":[-1.5,266.9],"nice":false,"zero":false},"axis":null},"y":{"field":"k","type":"quantitative","scale":{"domain":[0,100],"nice":false,"zero":false},"axis":null}}},
{"data":{"name":"main"},"mark":{"type":"line","stroke":"#ff0000","strokeWidth":2.5},"encoding":{"x":{"field":"t","type":"quantitative","scale":{"domain":[-1.5,266.9],"nice":false,"zero":false},"axis":null},"y":{"field":"d","type":"quantitative","scale":{"domain":[0,100],"nice":false,"zero":false},"axis":null}}},
{"data":{"name":"stotrend"},"mark":{"type":"line","stroke":"#000000","strokeWidth":3},"encoding":{"x":{"field":"t","type":"quantitative","scale":{"domain":[-1.5,266.9],"nice":false,"zero":false},"axis":null},"y":{"field":"v","type":"quantitative","scale":{"domain":[0,100],"nice":false,"zero":false},"axis":null},"detail":{"field":"g","type":"nominal"}}},
{"mark":{"type":"rule","stroke":"#000000","strokeWidth":3},"encoding":{"x":{"datum":232,"type":"quantitative","scale":{"domain":[-1.5,266.9],"nice":false,"zero":false},"axis":null},"y":{"datum":0,"type":"quantitative","scale":{"domain":[0,100],"nice":false,"zero":false},"axis":null},"y2":{"datum":100}}},
{"mark":{"type":"text","align":"left","baseline":"middle","font":"Roboto","fontSize":28,"fontWeight":"bold","color":"#000000"},"encoding":{"x":{"datum":11.5,"type":"quantitative","scale":{"domain":[-1.5,266.9],"nice":false,"zero":false},"axis":null},"y":{"datum":92.8,"type":"quantitative","scale":{"domain":[0,100],"nice":false,"zero":false},"axis":null},"text":{"value":"STO (14,3,5)"}}},
{"mark":{"type":"text","align":"left","baseline":"middle","font":"Roboto","fontSize":28,"fontWeight":"bold","color":"#000000"},"encoding":{"x":{"datum":65.6,"type":"quantitative","scale":{"domain":[-1.5,266.9],"nice":false,"zero":false},"axis":null},"y":{"datum":92.8,"type":"quantitative","scale":{"domain":[0,100],"nice":false,"zero":false},"axis":null},"text":{"value":"40,33"}}},
{"mark":{"type":"rect","fill":"#000000"},"encoding":{"x":{"datum":231.7,"type":"quantitative","scale":{"domain":[-1.5,266.9],"nice":false,"zero":false},"axis":null},"x2":{"datum":263.9},"y":{"datum":45.1,"type":"quantitative","scale":{"domain":[0,100],"nice":false,"zero":false},"axis":null},"y2":{"datum":34.1}}},
{"mark":{"type":"text","align":"left","baseline":"middle","font":"Roboto","fontSize":30,"color":"#ffffff"},"encoding":{"x":{"datum":233,"type":"quantitative","scale":{"domain":[-1.5,266.9],"nice":false,"zero":false},"axis":null},"y":{"datum":39.6,"type":"quantitative","scale":{"domain":[0,100],"nice":false,"zero":false},"axis":null},"text":{"value":"40,333"}}}
]
},
{"data":{"values":[{"g":20},{"g":80}]},"mark":{"type":"rule","opacity":0},"encoding":{"x":{"datum":0,"type":"quantitative","scale":{"domain":[-1.5,266.9],"nice":false,"zero":false},"axis":null},"x2":{"datum":1},"y":{"field":"g","type":"quantitative","scale":{"domain":[0,100],"nice":false,"zero":false},"axis":{"orient":"right","offset":-140,"values":[20,80],"domain":false,"ticks":false,"grid":false,"title":null,"labelFont":"Roboto","labelFontSize":32,"labelFontWeight":"bold","labelColor":{"condition":{"test":"datum.value > 50","value":"#ff0000"},"value":"#008000"},"labelBaseline":"middle","labelPadding":6,"labelAlign":"left","labelOverlap":false}}}},
{"data":{"values":[{"g":50}]},"mark":{"type":"rule","opacity":0},"encoding":{"x":{"datum":0,"type":"quantitative","scale":{"domain":[-1.5,266.9],"nice":false,"zero":false},"axis":null},"x2":{"datum":1},"y":{"field":"g","type":"quantitative","scale":{"domain":[0,100],"nice":false,"zero":false},"axis":{"orient":"right","offset":-140,"values":[50],"domain":false,"ticks":false,"grid":false,"title":null,"labelFont":"Roboto","labelFontSize":32,"labelFontWeight":"bold","labelColor":"#000000","labelBaseline":"middle","labelPadding":6,"labelAlign":"left","labelOverlap":false}}}}
],
"resolve":{"scale":{"x":"independent","y":"independent"},"axis":{"x":"independent","y":"independent"}}
},
{
"width":1076,"height":356,
"layer":[
{
"data":{"values":[{}]},
"layer":[
{"mark":{"type":"rule","stroke":"#dcdcdc","strokeWidth":4},"encoding":{"x":{"datum":-1.5,"type":"quantitative","scale":{"domain":[-1.5,266.9],"nice":false,"zero":false},"axis":null},"x2":{"datum":266.9},"y":{"datum":-40.3,"type":"quantitative","scale":{"domain":[-194.93,-39.61],"nice":false,"zero":false},"axis":null}}},
{"data":{"name":"months"},"mark":{"type":"rule","stroke":"#e6e6e6","strokeWidth":2.5},"encoding":{"x":{"field":"m","type":"quantitative","scale":{"domain":[-1.5,266.9],"nice":false,"zero":false},"axis":null},"y":{"datum":-41,"type":"quantitative","scale":{"domain":[-194.93,-39.61],"nice":false,"zero":false},"axis":null},"y2":{"datum":-192.3}}},
{"mark":{"type":"rule","stroke":"#c4c4c4","strokeWidth":3},"encoding":{"x":{"datum":0,"type":"quantitative","scale":{"domain":[-1.5,266.9],"nice":false,"zero":false},"axis":null},"x2":{"datum":232},"y":{"datum":-116.834,"type":"quantitative","scale":{"domain":[-194.93,-39.61],"nice":false,"zero":false},"axis":null}}},
{"mark":{"type":"rule","stroke":"#dcdcdc","strokeWidth":2.5},"encoding":{"x":{"datum":0,"type":"quantitative","scale":{"domain":[-1.5,266.9],"nice":false,"zero":false},"axis":null},"x2":{"datum":232},"y":{"datum":-192.3,"type":"quantitative","scale":{"domain":[-194.93,-39.61],"nice":false,"zero":false},"axis":null}}},
{"mark":{"type":"rule","stroke":"#000000","strokeWidth":3},"encoding":{"x":{"datum":232,"type":"quantitative","scale":{"domain":[-1.5,266.9],"nice":false,"zero":false},"axis":null},"y":{"datum":-39.61,"type":"quantitative","scale":{"domain":[-194.93,-39.61],"nice":false,"zero":false},"axis":null},"y2":{"datum":-194.93}}},
{"data":{"name":"main"},"mark":{"type":"line","stroke":"#000000","strokeWidth":2.5},"encoding":{"x":{"field":"t","type":"quantitative","scale":{"domain":[-1.5,266.9],"nice":false,"zero":false},"axis":null},"y":{"field":"a","type":"quantitative","scale":{"domain":[-194.93,-39.61],"nice":false,"zero":false},"axis":null}}},
{"mark":{"type":"text","align":"left","baseline":"middle","font":"Roboto","fontSize":28,"fontWeight":"bold","color":"#000000"},"encoding":{"x":{"datum":11.5,"type":"quantitative","scale":{"domain":[-1.5,266.9],"nice":false,"zero":false},"axis":null},"y":{"datum":-50.95,"type":"quantitative","scale":{"domain":[-194.93,-39.61],"nice":false,"zero":false},"axis":null},"text":{"value":"ACD"}}},
{"mark":{"type":"text","align":"left","baseline":"middle","font":"Roboto","fontSize":28,"fontWeight":"bold","color":"#000000"},"encoding":{"x":{"datum":34.7,"type":"quantitative","scale":{"domain":[-1.5,266.9],"nice":false,"zero":false},"axis":null},"y":{"datum":-50.95,"type":"quantitative","scale":{"domain":[-194.93,-39.61],"nice":false,"zero":false},"axis":null},"text":{"value":"-174.858.664,88"}}},
{"mark":{"type":"rect","fill":"#000000"},"encoding":{"x":{"datum":231.7,"type":"quantitative","scale":{"domain":[-1.5,266.9],"nice":false,"zero":false},"axis":null},"x2":{"datum":263.9},"y":{"datum":-166.14,"type":"quantitative","scale":{"domain":[-194.93,-39.61],"nice":false,"zero":false},"axis":null},"y2":{"datum":-183.59}}},
{"mark":{"type":"text","align":"left","baseline":"middle","font":"Roboto","fontSize":32,"color":"#ffffff"},"encoding":{"x":{"datum":232.8,"type":"quantitative","scale":{"domain":[-1.5,266.9],"nice":false,"zero":false},"axis":null},"y":{"datum":-174.86,"type":"quantitative","scale":{"domain":[-194.93,-39.61],"nice":false,"zero":false},"axis":null},"text":{"value":"-174.858.664"}}},
{"mark":{"type":"text","clip":true,"align":"left","baseline":"middle","font":"Roboto","fontSize":33,"fontWeight":500,"color":"#ff0000"},"encoding":{"x":{"datum":233.4,"type":"quantitative","scale":{"domain":[-1.5,266.9],"nice":false,"zero":false},"axis":null},"y":{"datum":-39.085,"type":"quantitative","scale":{"domain":[-194.93,-39.61],"nice":false,"zero":false},"axis":null},"text":{"value":"-39.085.341"}}},
{"mark":{"type":"text","clip":true,"align":"left","baseline":"middle","font":"Roboto","fontSize":33,"fontWeight":500,"color":"#008000"},"encoding":{"x":{"datum":233.4,"type":"quantitative","scale":{"domain":[-1.5,266.9],"nice":false,"zero":false},"axis":null},"y":{"datum":-192.083,"type":"quantitative","scale":{"domain":[-194.93,-39.61],"nice":false,"zero":false},"axis":null},"text":{"value":"-192.083.187"}}}
]
},
{"data":{"values":[{"g":-116.834}]},"mark":{"type":"rule","opacity":0},"encoding":{"x":{"datum":0,"type":"quantitative","scale":{"domain":[-1.5,266.9],"nice":false,"zero":false},"axis":null},"x2":{"datum":1},"y":{"field":"g","type":"quantitative","scale":{"domain":[-194.93,-39.61],"nice":false,"zero":false},"axis":{"orient":"right","offset":-140,"values":[-116.834],"labelExpr":"'-116.834.264'","domain":false,"ticks":false,"grid":false,"title":null,"labelFont":"Roboto","labelFontSize":34,"labelFontWeight":500,"labelColor":"#111111","labelBaseline":"middle","labelPadding":5,"labelAlign":"left","labelOverlap":false}}}}
],
"resolve":{"scale":{"x":"independent","y":"independent"},"axis":{"x":"independent","y":"independent"}}
}
]
}
